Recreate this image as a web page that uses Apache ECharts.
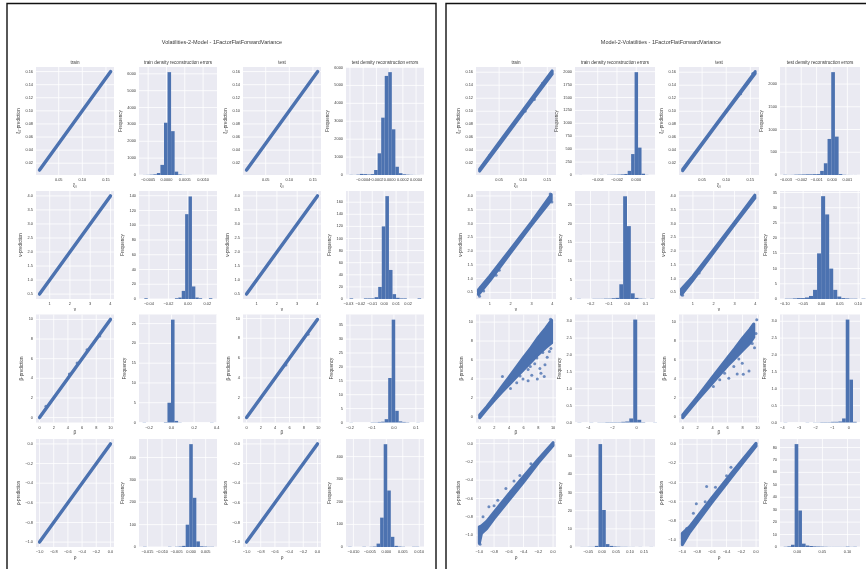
<!DOCTYPE html>
<html><head><meta charset="utf-8">
<script src="https://cdn.jsdelivr.net/npm/echarts@6/dist/echarts.min.js"></script>
<style>html,body{margin:0;padding:0;background:#fff}#c{width:866px;height:569px}</style>
</head><body><div id="c"></div><script>
// ================= DATA =================
const suptitles = ['Volatilities-2-Model - 1FactorFlatForwardVariance', 'Model-2-Volatilities - 1FactorFlatForwardVariance'];
const colTitles = ['train', 'train density reconstruction errors', 'test', 'test density reconstruction errors'];
const paramNames = ['\u03be\u2080', '\u03bd', '\u03b2', '\u03c1'];
const histYLabel = 'Frequency';

// scatter tick labels
const T_xi_x = [0.05, 0.10, 0.15];
const T_xi_y = [0.02, 0.04, 0.06, 0.08, 0.10, 0.12, 0.14, 0.16];
const T_nu_x = [1, 2, 3, 4];
const T_nu_y = [0.5, 1.0, 1.5, 2.0, 2.5, 3.0, 3.5, 4.0];
const T_beta = [0, 2, 4, 6, 8, 10];
const T_rho = [-1.0, -0.8, -0.6, -0.4, -0.2, 0.0];

// histogram tick labels
const L_xi_train_xt = [-0.0005, 0, 0.0005, 0.0010];
const L_xi_train_yt = [0, 1000, 2000, 3000, 4000, 5000, 6000];
const L_xi_test_xt = [-0.0006, -0.0004, -0.0002, 0, 0.0002, 0.0004];
const L_xi_test_yt = [0, 1000, 2000, 3000, 4000, 5000, 6000];
const L_nu_train_xt = [-0.04, -0.02, 0, 0.02];
const L_nu_train_yt = [0, 20, 40, 60, 80, 100, 120, 140];
const L_nu_test_xt = [-0.03, -0.02, -0.01, 0, 0.01, 0.02];
const L_nu_test_yt = [0, 20, 40, 60, 80, 100, 120, 140, 160];
const L_beta_train_xt = [-0.2, 0, 0.2, 0.4];
const L_beta_train_yt = [0, 5, 10, 15, 20, 25];
const L_beta_test_xt = [-0.2, -0.1, 0, 0.1];
const L_beta_test_yt = [0, 5, 10, 15, 20, 25, 30, 35];
const L_rho_train_xt = [-0.015, -0.010, -0.005, 0, 0.005];
const L_rho_train_yt = [0, 100, 200, 300, 400];
const L_rho_test_xt = [-0.010, -0.005, 0, 0.005, 0.010];
const L_rho_test_yt = [0, 100, 200, 300, 400];
const R_xi_train_xt = [-0.004, -0.002, 0];
const R_xi_train_yt = [0, 250, 500, 750, 1000, 1250, 1500, 1750, 2000];
const R_xi_test_xt = [-0.003, -0.002, -0.001, 0, 0.001];
const R_xi_test_yt = [0, 500, 1000, 1500, 2000];
const R_nu_train_xt = [-0.2, -0.1, 0, 0.1];
const R_nu_train_yt = [0, 5, 10, 15, 20, 25];
const R_nu_test_xt = [-0.10, -0.05, 0, 0.05, 0.10];
const R_nu_test_yt = [0, 5, 10, 15, 20, 25, 30, 35];
const R_beta_train_xt = [-4, -2, 0];
const R_beta_train_yt = [0, 0.5, 1.0, 1.5, 2.0, 2.5, 3.0];
const R_beta_test_xt = [-4, -3, -2, -1, 0];
const R_beta_test_yt = [0, 0.5, 1.0, 1.5, 2.0, 2.5, 3.0];
const R_rho_train_xt = [-0.05, 0, 0.05, 0.10, 0.15];
const R_rho_train_yt = [0, 10, 20, 30, 40, 50];
const R_rho_test_xt = [0, 0.05, 0.10];
const R_rho_test_yt = [0, 10, 20, 30, 40, 50, 60, 70, 80];

// histograms: [first bin start, bin width] and counts
const L_xi_train_bins = [-0.00065, 0.000097];
const L_xi_train_counts = [5, 10, 20, 40, 120, 600, 3100, 6100, 2600, 200, 30, 10, 5, 2, 1, 0, 0, 0, 0, 1];
const L_xi_test_bins = [-0.00061, 0.0000536];
const L_xi_test_counts = [10, 5, 20, 60, 50, 30, 50, 280, 1210, 3200, 5530, 5740, 2550, 460, 100, 40, 20, 10, 5, 3];
const L_nu_train_bins = [-0.0448, 0.0035];
const L_nu_train_counts = [1, 0, 0, 0, 0, 0, 0, 0, 0, 1, 2, 11, 115, 139, 17, 2, 1, 0, 0, 1];
const L_nu_test_bins = [-0.029, 0.003];
const L_nu_test_counts = [1, 0, 0, 0, 1, 1, 1, 3, 20, 120, 170, 48, 8, 2, 1, 1, 0, 0, 0, 1];
const L_beta_train_bins = [-0.257, 0.0315];
const L_beta_train_counts = [0.05, 0, 0, 0, 0, 0, 0.1, 5, 26, 0.4, 0.05, 0, 0, 0, 0, 0, 0, 0, 0, 0.05];
const L_beta_test_bins = [-0.202, 0.016];
const L_beta_test_counts = [0.05, 0, 0, 0, 0, 0, 0.1, 0.1, 0.2, 0.3, 1.2, 16, 37, 4.2, 0.4, 0.2, 0.1, 0, 0, 0.05];
const L_rho_train_bins = [-0.0165, 0.00122];
const L_rho_train_counts = [1, 0, 0, 0, 0, 0, 0, 1, 0, 1, 2, 5, 100, 460, 220, 25, 3, 2, 1, 1];
const L_rho_test_bins = [-0.0116, 0.00108];
const L_rho_test_counts = [1, 0, 0, 0, 1, 0, 1, 2, 15, 130, 455, 250, 45, 5, 2, 1, 0, 0, 1, 1];
const R_xi_train_bins = [-0.00593, 0.00036];
const R_xi_train_counts = [1, 0, 0, 0, 1, 0, 2, 0, 3, 4, 5, 8, 12, 20, 80, 405, 1990, 530, 25, 3];
const R_xi_test_bins = [-0.00317, 0.00024];
const R_xi_test_counts = [5, 2, 3, 8, 10, 12, 15, 15, 18, 20, 90, 258, 793, 2262, 844, 20, 5, 2, 1, 1];
const R_nu_train_bins = [-0.274, 0.021];
const R_nu_train_counts = [0.05, 0, 0, 0, 0.05, 0.05, 0.05, 0.1, 0.1, 0.2, 0.3, 3.9, 27.2, 19.3, 1.5, 0.3, 0.1, 0.05, 0, 0.05];
const R_nu_test_bins = [-0.1, 0.011];
const R_nu_test_counts = [0.1, 0.1, 0.2, 0.3, 0.3, 0.5, 1, 3, 15, 33.8, 27.8, 10, 3, 0.8, 0.3, 0.2, 0.1, 0.1, 0, 0.1];
const R_beta_train_bins = [-4.89, 0.33];
const R_beta_train_counts = [0.005, 0, 0, 0.005, 0, 0.005, 0.005, 0.01, 0.01, 0.01, 0.01, 0.02, 0.03, 0.12, 3.05, 0.08, 0.01, 0, 0, 0.005];
const R_beta_test_bins = [-3.92, 0.22];
const R_beta_test_counts = [0.005, 0, 0, 0, 0, 0, 0.005, 0, 0.005, 0.005, 0.01, 0.01, 0.01, 0.02, 0.02, 0.03, 0.12, 3.05, 1.27, 0.02];
const R_rho_train_bins = [-0.078, 0.013];
const R_rho_train_counts = [0.05, 0.05, 0.1, 0.1, 0.6, 56.7, 20.4, 1.6, 0.6, 0.3, 0.2, 0.1, 0.1, 0.05, 0.05, 0, 0.05, 0, 0, 0.05];
const R_rho_test_bins = [-0.0273, 0.0073];
const R_rho_test_counts = [0.2, 0.5, 1.8, 82.7, 29.3, 2.7, 1.2, 0.8, 0.5, 0.4, 0.3, 0.2, 0.1, 0.1, 0.1, 0.1, 0.1, 0.3, 0.1, 0.2];

// scatter: dense band [x, lowest prediction, highest prediction] + individual stray points [x, prediction]
const L_xi_train_band = [[0.0095, 0.0095, 0.0095], [0.05, 0.05, 0.05], [0.10, 0.10, 0.10], [0.16, 0.16, 0.16]];
const L_xi_train_pts = [];
const L_xi_test_band = [[0.0095, 0.0095, 0.0095], [0.05, 0.05, 0.05], [0.10, 0.10, 0.10], [0.16, 0.16, 0.16]];
const L_xi_test_pts = [];
const L_nu_train_band = [[0.5, 0.5, 0.5], [1.5, 1.5, 1.5], [2.5, 2.5, 2.5], [4.0, 4.0, 4.0]];
const L_nu_train_pts = [];
const L_nu_test_band = [[0.5, 0.5, 0.5], [1.5, 1.5, 1.5], [2.5, 2.5, 2.5], [4.0, 4.0, 4.0]];
const L_nu_test_pts = [];
const L_beta_train_band = [[0, 0, 0], [5, 5, 5], [10, 10, 10]];
const L_beta_train_pts = [[0.9, 1.15], [4.2, 4.45], [5.3, 5.55], [6.7, 6.9], [8.5, 8.3]];
const L_beta_test_band = [[0, 0, 0], [5, 5, 5], [9.9, 9.9, 9.9]];
const L_beta_test_pts = [[5.5, 5.3], [8.6, 8.4]];
const L_rho_train_band = [[-1.0, -1.0, -1.0], [-0.5, -0.5, -0.5], [0.0, 0.0, 0.0]];
const L_rho_train_pts = [];
const L_rho_test_band = [[-1.0, -1.0, -1.0], [-0.5, -0.5, -0.5], [0.0, 0.0, 0.0]];
const L_rho_test_pts = [];

const R_xi_train_band = [[0.0095, 0.008, 0.011], [0.05, 0.048, 0.052], [0.10, 0.098, 0.102], [0.16, 0.157, 0.162]];
const R_xi_train_pts = [[0.123, 0.118], [0.104, 0.100], [0.03, 0.032], [0.14, 0.143]];
const R_xi_test_band = [[0.0095, 0.0085, 0.0105], [0.08, 0.079, 0.081], [0.16, 0.158, 0.161]];
const R_xi_test_pts = [[0.13, 0.127], [0.155, 0.158]];
const R_nu_train_band = [[0.45, 0.42, 0.6], [1, 0.93, 1.1], [2, 1.94, 2.07], [3, 2.94, 3.05], [3.95, 3.85, 4.05]];
const R_nu_train_pts = [[0.5, 0.36], [0.7, 0.55], [1.3, 1.12], [1.45, 1.3], [3.9, 4.07], [3.98, 3.78], [0.55, 0.68]];
const R_nu_test_band = [[0.45, 0.42, 0.62], [1, 0.95, 1.08], [2, 1.95, 2.05], [3, 2.96, 3.04], [3.98, 3.92, 4.03]];
const R_nu_test_pts = [[0.5, 0.4], [1.3, 1.2]];
const R_beta_train_band = [[0, -0.1, 0.2], [1, 0.85, 1.1], [2, 1.75, 2.1], [3, 2.6, 3.15], [4, 3.4, 4.2], [5, 4.2, 5.25], [6, 5.0, 6.3], [7, 5.8, 7.3], [8, 6.6, 8.4], [9, 7.3, 9.35], [9.8, 7.8, 10.2]];
const R_beta_train_pts = [[3.1, 4.25], [5.9, 4.0], [6.6, 3.8], [7.85, 4.0], [8.8, 4.25], [8.35, 4.6], [8.2, 5.1], [8.9, 5.5], [9.2, 6.3], [9.35, 7.7], [7.5, 5.6], [6.6, 5.0], [7.1, 4.4], [9.65, 10.3], [4.2, 3.0], [5.05, 3.6], [9.5, 6.9], [7.8, 6.2], [6.9, 5.3], [5.5, 4.3], [8.6, 6.8], [9.7, 7.2]];
const R_beta_test_band = [[0, -0.1, 0.2], [2, 1.8, 2.15], [4, 3.6, 4.2], [6, 5.4, 6.25], [7, 6.2, 7.25], [8, 7.0, 8.3], [9, 7.8, 9.25], [9.5, 8.4, 9.8]];
const R_beta_test_pts = [[4.95, 3.9], [6.16, 4.08], [7.28, 4.53], [8.86, 4.84], [8.1, 4.5], [6.83, 5.3], [7.96, 5.65], [9.3, 7.75], [9.1, 8.1], [9.8, 8.8], [9.9, 10.25], [4.1, 3.2], [5.6, 4.6], [7.5, 6.1], [9.6, 7.3]];
const R_rho_train_band = [[-1.0, -1.09, -0.91], [-0.97, -0.98, -0.9], [-0.9, -0.93, -0.85], [-0.8, -0.82, -0.75], [-0.6, -0.62, -0.55], [-0.4, -0.42, -0.36], [-0.2, -0.21, -0.17], [0, -0.02, 0.01]];
const R_rho_train_pts = [[-0.87, -0.69], [-0.8, -0.68], [-0.64, -0.49], [-0.53, -0.41], [-0.57, -0.52], [-0.95, -0.8], [-0.99, -1.1], [-0.45, -0.35], [-0.3, -0.22], [-0.75, -0.62]];
const R_rho_test_band = [[-1.0, -1.05, -0.93], [-0.9, -0.92, -0.86], [-0.6, -0.61, -0.56], [-0.3, -0.31, -0.27], [0, -0.02, 0.01]];
const R_rho_test_pts = [[-0.81, -0.62], [-0.69, -0.6], [-0.67, -0.44], [-0.55, -0.45], [-0.34, -0.24], [-0.94, -0.88], [-0.85, -0.72], [-0.4, -0.33]];

// ================= LAYOUT / STYLE =================
const FONT = '"Liberation Sans", Arial, sans-serif';
const BLUE = '#4C72B0';
const COL_LEFT = [[36, 139, 243, 346], [476, 575, 679, 780]];
const COL_W = [78, 80];
const ROW_TOP = [67, 191, 314.5, 439];
const ROW_H = 108;
const TXT = '#3a3a3a';

function fmt(v, d) {
  const s = Math.abs(v).toFixed(d);
  return (v < 0 && Number(s) !== 0 ? '\u2212' : '') + s;
}

const grids = [], xAxes = [], yAxes = [], series = [], graphics = [];

function addPlot(p, r, c, s) {
  const i = grids.length;
  grids.push({ left: COL_LEFT[p][c], top: ROW_TOP[r], width: COL_W[p], height: ROW_H, show: true,
    backgroundColor: '#EAEAF2', borderWidth: 0, containLabel: false, outerBoundsMode: 'none' });
  const lab = (ticks, d, m) => ({ customValues: ticks, formatter: v => fmt(v, d), fontSize: 3.9, color: TXT, fontFamily: FONT, margin: m });
  xAxes.push({ type: 'value', gridIndex: i, min: s.xr[0], max: s.xr[1], axisLine: { show: false }, axisTick: { show: false },
    splitLine: { show: false }, axisLabel: lab(s.xt, s.xd, 3), name: s.xn || '', nameLocation: 'middle', nameGap: 8,
    nameTextStyle: { fontSize: 4.8, color: TXT, fontFamily: FONT } });
  yAxes.push({ type: 'value', gridIndex: i, min: s.yr[0], max: s.yr[1], axisLine: { show: false }, axisTick: { show: false },
    splitLine: { show: false }, axisLabel: lab(s.yt, s.yd, 3), name: s.yn || '', nameLocation: 'middle', nameGap: 12, nameRotate: 90,
    nameTextStyle: { fontSize: 4.6, color: TXT, fontFamily: FONT } });
  // white grid lines at the tick values
  series.push({ type: 'custom', xAxisIndex: i, yAxisIndex: i, z: 1, silent: true,
    data: s.xt.map(v => [v, s.yr[0]]),
    renderItem: (params, api) => {
      const cs = params.coordSys; const x = api.coord([api.value(0), api.value(1)])[0];
      return { type: 'line', shape: { x1: x, y1: cs.y, x2: x, y2: cs.y + cs.height }, style: { stroke: '#fff', lineWidth: 0.8 } };
    } });
  series.push({ type: 'custom', xAxisIndex: i, yAxisIndex: i, z: 1, silent: true,
    data: s.yt.map(v => [s.xr[0], v]),
    renderItem: (params, api) => {
      const cs = params.coordSys; const y = api.coord([api.value(0), api.value(1)])[1];
      return { type: 'line', shape: { x1: cs.x, y1: y, x2: cs.x + cs.width, y2: y }, style: { stroke: '#fff', lineWidth: 0.8 } };
    } });
  if (r === 0) {
    graphics.push({ type: 'text', x: COL_LEFT[p][c] + COL_W[p] / 2, y: ROW_TOP[r] - 4,
      style: { text: colTitles[c], fontSize: 4.6, fontFamily: FONT, fill: TXT, align: 'center', verticalAlign: 'middle',
        textAlign: 'center', textVerticalAlign: 'middle' } });
  }
  return i;
}

function hist(p, r, c, bins, counts, xr, xt, xd, yr, yt, yd) {
  const i = addPlot(p, r, c, { xr, xt, xd, yr, yt, yd, yn: histYLabel });
  const data = counts.map((n, k) => [bins[0] + k * bins[1], bins[0] + (k + 1) * bins[1], n]);
  series.push({ type: 'custom', xAxisIndex: i, yAxisIndex: i, z: 2, silent: true, data, encode: { x: [0, 1], y: 2 },
    renderItem: (params, api) => {
      const a = api.coord([api.value(0), api.value(2)]);
      const b = api.coord([api.value(1), 0]);
      return { type: 'rect', shape: { x: a[0], y: a[1], width: b[0] - a[0], height: b[1] - a[1] }, style: { fill: BLUE } };
    } });
}

function scat(p, r, c, band, pts, xr, xt, xd, yr, yt, yd, thick) {
  const name = paramNames[r];
  const i = addPlot(p, r, c, { xr, xt, xd, yr, yt, yd, xn: name, yn: name + '-prediction' });
  series.push({ type: 'custom', xAxisIndex: i, yAxisIndex: i, z: 2, silent: true, data: band, encode: { x: 0, y: [1, 2] },
    renderItem: (params, api) => {
      if (params.dataIndex !== 0) return null;
      const up = band.map(b => api.coord([b[0], b[2]]));
      const lo = band.map(b => api.coord([b[0], b[1]])).reverse();
      return { type: 'polygon', shape: { points: up.concat(lo) },
        style: { fill: BLUE, stroke: BLUE, lineWidth: thick, lineJoin: 'round', lineCap: 'round' } };
    } });
  series.push({ type: 'scatter', xAxisIndex: i, yAxisIndex: i, z: 3, silent: true, data: pts, symbolSize: 3,
    itemStyle: { color: BLUE } });
}

// ---------- panel 0 (left) ----------
scat(0, 0, 0, L_xi_train_band, L_xi_train_pts, [0.002, 0.167], T_xi_x, 2, [0.002, 0.167], T_xi_y, 2, 3.4);
hist(0, 0, 1, L_xi_train_bins, L_xi_train_counts, [-0.00075, 0.00138], L_xi_train_xt, 4, [0, 6405], L_xi_train_yt, 0);
scat(0, 0, 2, L_xi_test_band, L_xi_test_pts, [0.002, 0.167], T_xi_x, 2, [0.002, 0.167], T_xi_y, 2, 3.4);
hist(0, 0, 3, L_xi_test_bins, L_xi_test_counts, [-0.00066, 0.00052], L_xi_test_xt, 4, [0, 6027], L_xi_test_yt, 0);

scat(0, 1, 0, L_nu_train_band, L_nu_train_pts, [0.325, 4.175], T_nu_x, 0, [0.325, 4.175], T_nu_y, 1, 3.4);
hist(0, 1, 1, L_nu_train_bins, L_nu_train_counts, [-0.0503, 0.030], L_nu_train_xt, 2, [0, 146.4], L_nu_train_yt, 0);
scat(0, 1, 2, L_nu_test_band, L_nu_test_pts, [0.325, 4.175], T_nu_x, 0, [0.325, 4.175], T_nu_y, 1, 3.4);
hist(0, 1, 3, L_nu_test_bins, L_nu_test_counts, [-0.032, 0.0334], L_nu_test_xt, 2, [0, 178.5], L_nu_test_yt, 0);

scat(0, 2, 0, L_beta_train_band, L_beta_train_pts, [-0.5, 10.5], T_beta, 0, [-0.5, 10.5], T_beta, 0, 3.4);
hist(0, 2, 1, L_beta_train_bins, L_beta_train_counts, [-0.289, 0.403], L_beta_train_xt, 1, [0, 27.3], L_beta_train_yt, 0);
scat(0, 2, 2, L_beta_test_band, L_beta_test_pts, [-0.5, 10.4], T_beta, 0, [-0.5, 10.4], T_beta, 0, 3.4);
hist(0, 2, 3, L_beta_test_bins, L_beta_test_counts, [-0.218, 0.137], L_beta_test_xt, 1, [0, 38.85], L_beta_test_yt, 0);

scat(0, 3, 0, L_rho_train_band, L_rho_train_pts, [-1.05, 0.05], T_rho, 1, [-1.05, 0.05], T_rho, 1, 3.4);
hist(0, 3, 1, L_rho_train_bins, L_rho_train_counts, [-0.0179, 0.0089], L_rho_train_xt, 3, [0, 483], L_rho_train_yt, 0);
scat(0, 3, 2, L_rho_test_band, L_rho_test_pts, [-1.05, 0.05], T_rho, 1, [-1.05, 0.05], T_rho, 1, 3.4);
hist(0, 3, 3, L_rho_test_bins, L_rho_test_counts, [-0.01225, 0.01145], L_rho_test_xt, 3, [0, 478], L_rho_test_yt, 0);

// ---------- panel 1 (right) ----------
scat(1, 0, 0, R_xi_train_band, R_xi_train_pts, [0.002, 0.168], T_xi_x, 2, [0.002, 0.168], T_xi_y, 2, 3);
hist(1, 0, 1, R_xi_train_bins, R_xi_train_counts, [-0.00636, 0.00195], R_xi_train_xt, 3, [0, 2090], R_xi_train_yt, 0);
scat(1, 0, 2, R_xi_test_band, R_xi_test_pts, [0.002, 0.168], T_xi_x, 2, [0.002, 0.168], T_xi_y, 2, 3);
hist(1, 0, 3, R_xi_test_bins, R_xi_test_counts, [-0.00338, 0.00182], R_xi_test_xt, 3, [0, 2375], R_xi_test_yt, 0);

scat(1, 1, 0, R_nu_train_band, R_nu_train_pts, [0.33, 4.18], T_nu_x, 0, [0.26, 4.18], T_nu_y, 1, 3);
hist(1, 1, 1, R_nu_train_bins, R_nu_train_counts, [-0.285, 0.152], R_nu_train_xt, 1, [0, 28.6], R_nu_train_yt, 0);
scat(1, 1, 2, R_nu_test_band, R_nu_test_pts, [0.33, 4.18], T_nu_x, 0, [0.26, 4.18], T_nu_y, 1, 3);
hist(1, 1, 3, R_nu_test_bins, R_nu_test_counts, [-0.113, 0.105], R_nu_test_xt, 2, [0, 35.5], R_nu_test_yt, 0);

scat(1, 2, 0, R_beta_train_band, R_beta_train_pts, [-0.5, 10.4], T_beta, 0, [-0.6, 10.8], T_beta, 0, 3);
hist(1, 2, 1, R_beta_train_bins, R_beta_train_counts, [-5.09, 1.53], R_beta_train_xt, 0, [0, 3.2], R_beta_train_yt, 1);
scat(1, 2, 2, R_beta_test_band, R_beta_test_pts, [-0.5, 10.2], T_beta, 0, [-0.6, 10.8], T_beta, 0, 3);
hist(1, 2, 3, R_beta_test_bins, R_beta_test_counts, [-4.14, 0.68], R_beta_test_xt, 0, [0, 3.2], R_beta_test_yt, 1);

scat(1, 3, 0, R_rho_train_band, R_rho_train_pts, [-1.045, 0.04], T_rho, 1, [-1.13, 0.05], T_rho, 1, 3);
hist(1, 3, 1, R_rho_train_bins, R_rho_train_counts, [-0.097, 0.189], R_rho_train_xt, 2, [0, 59.5], R_rho_train_yt, 0);
scat(1, 3, 2, R_rho_test_band, R_rho_test_pts, [-1.045, 0.04], T_rho, 1, [-1.073, 0.055], T_rho, 1, 3);
hist(1, 3, 3, R_rho_test_bins, R_rho_test_counts, [-0.0346, 0.125], R_rho_test_xt, 2, [0, 86.8], R_rho_test_yt, 0);

// panel frames and figure titles
graphics.push({ type: 'rect', shape: { x: 7, y: 3.5, width: 429, height: 620 }, style: { fill: 'none', stroke: '#111', lineWidth: 1.4 }, z: 10 });
graphics.push({ type: 'rect', shape: { x: 446, y: 3.5, width: 440, height: 620 }, style: { fill: 'none', stroke: '#111', lineWidth: 1.4 }, z: 10 });
const supX = [222, 661];
supX.forEach((x, p) => graphics.push({ type: 'text', x, y: 42,
  style: { text: suptitles[p], fontSize: 5.5, fontFamily: FONT, fill: TXT, align: 'center', verticalAlign: 'middle',
    textAlign: 'center', textVerticalAlign: 'middle' } }));

const chart = echarts.init(document.getElementById('c'), null, { renderer: 'canvas' });
chart.setOption({ animation: false, backgroundColor: '#fff', grid: grids, xAxis: xAxes, yAxis: yAxes, series, graphic: { elements: graphics } });
</script></body></html>
